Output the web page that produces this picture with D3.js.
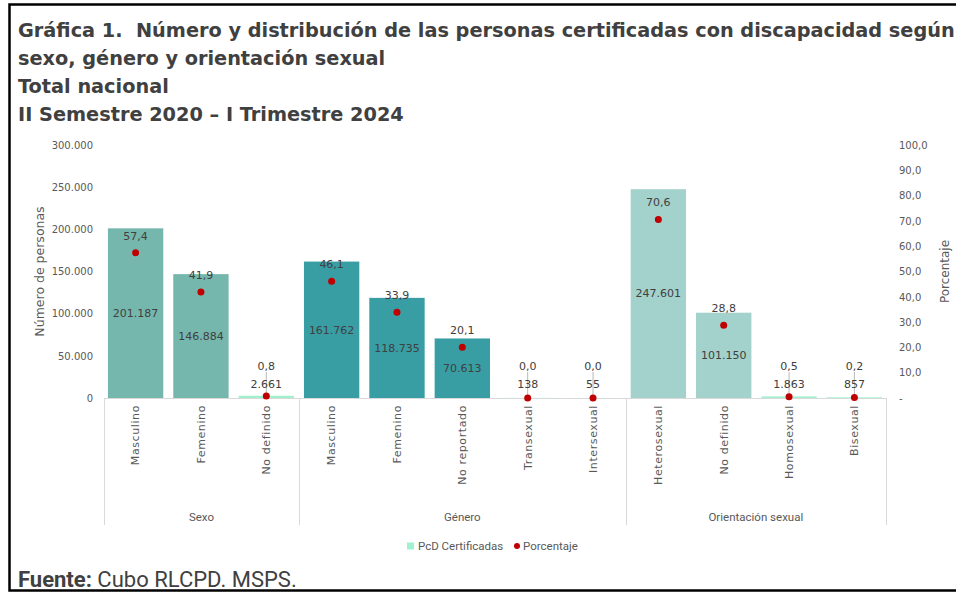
<!DOCTYPE html>
<html>
<head>
<meta charset="utf-8">
<script src="https://cdn.jsdelivr.net/npm/d3@7"></script>
<style>
  body { margin: 0; background: #fff; }
  svg { display: block; }
  .title { font-family: "DejaVu Sans", Verdana, sans-serif; font-weight: bold; fill: #404040; white-space: pre; }
  .tick text { font-family: "DejaVu Sans", Verdana, sans-serif; font-size: 10px; fill: #595959; }
  .narrow { font-family: "Liberation Sans Narrow", "Arial Narrow", Roboto, sans-serif; fill: #595959; }
</style>
</head>
<body>
<div id="chart"></div>
<script>
// Chart data
var groups = ["Sexo", "Género", "Orientación sexual"];
var categories = ["Masculino", "Femenino", "No definido",
  "Masculino", "Femenino", "No reportado", "Transexual", "Intersexual",
  "Heterosexual", "No definido", "Homosexual", "Bisexual"];
var categoryGroup = [0, 0, 0, 1, 1, 1, 1, 1, 2, 2, 2, 2];
var personas = [201187, 146884, 2661, 161762, 118735, 70613, 138, 55, 247601, 101150, 1863, 857];
var porcentaje = [57.4, 41.9, 0.8, 46.1, 33.9, 20.1, 0.0, 0.0, 70.6, 28.8, 0.5, 0.2];
var leftTicks = [0, 50000, 100000, 150000, 200000, 250000, 300000];
var rightTicks = [0, 10, 20, 30, 40, 50, 60, 70, 80, 90, 100];

var titleLines = [
  "Gráfica 1.  Número y distribución de las personas certificadas con discapacidad según",
  "sexo, género y orientación sexual",
  "Total nacional",
  "II Semestre 2020 – I Trimestre 2024"
];

var groupColors = ["#76b7ad", "#389ea4", "#a3d1cb"];
var seriesColor = "#a0f2cf";
var dotColor = "#c00000";

var widthSVG = 956;
var heightSVG = 593;
var plot = { left: 104, right: 886, top: 145, bottom: 398 };

var es = d3.formatLocale({ decimal: ",", thousands: ".", grouping: [3], currency: ["$", ""] });
var fmtInt = es.format(",.0f");
var fmtPct = es.format(",.1f");

var rows = categories.map(function(c, i) {
  return { i: i, cat: c, group: categoryGroup[i], personas: personas[i], pct: porcentaje[i] };
});

var svg = d3.select("#chart").append("svg")
  .attr("width", widthSVG)
  .attr("height", heightSVG);

svg.append("rect").attr("width", widthSVG).attr("height", heightSVG).attr("fill", "#fff");

// frame
svg.append("path")
  .attr("d", "M" + (widthSVG + 5) + ",4.5 H9.5 V590.5 H" + (widthSVG + 5))
  .attr("fill", "none")
  .attr("stroke", "#000")
  .attr("stroke-width", 2.5);

// title
svg.selectAll("text.title").data(titleLines).enter()
  .append("text")
  .attr("class", "title")
  .attr("x", 18)
  .attr("y", function(d, i) { return 37 + i * 28; })
  .attr("font-size", 19.3)
  .text(function(d) { return d; });

// scales
var x = d3.scaleBand()
  .domain(d3.range(categories.length))
  .range([plot.left, plot.right])
  .paddingInner(0.153)
  .paddingOuter(0.06);

var yLeft = d3.scaleLinear().domain([0, 300000]).range([plot.bottom, plot.top]);
var yRight = d3.scaleLinear().domain([0, 100]).range([plot.bottom, plot.top]);

// axes
var leftAxis = svg.append("g")
  .attr("transform", "translate(" + plot.left + ",0)")
  .call(d3.axisLeft(yLeft).tickValues(leftTicks).tickSize(0).tickPadding(11).tickFormat(fmtInt));
leftAxis.select(".domain").remove();

var rightAxis = svg.append("g")
  .attr("transform", "translate(" + plot.right + ",0)")
  .call(d3.axisRight(yRight).tickValues(rightTicks).tickSize(0).tickPadding(13)
    .tickFormat(function(d) { return d === 0 ? "-" : fmtPct(d); }));
rightAxis.select(".domain").remove();

svg.append("text")
  .attr("transform", "translate(44," + (plot.top + plot.bottom) / 2 + ") rotate(-90)")
  .attr("text-anchor", "middle")
  .attr("font-family", "DejaVu Sans, Verdana, sans-serif")
  .attr("font-size", 12.5)
  .attr("fill", "#595959")
  .text("Número de personas");

svg.append("text")
  .attr("transform", "translate(949," + (plot.top + plot.bottom) / 2 + ") rotate(-90)")
  .attr("text-anchor", "middle")
  .attr("font-family", "DejaVu Sans, Verdana, sans-serif")
  .attr("font-size", 12)
  .attr("fill", "#595959")
  .text("Porcentaje");

// category axis line and group separators
svg.append("line")
  .attr("x1", plot.left).attr("x2", plot.right)
  .attr("y1", plot.bottom + 0.5).attr("y2", plot.bottom + 0.5)
  .attr("stroke", "#d9d9d9");

var groupStart = groups.map(function(g, gi) { return categoryGroup.indexOf(gi); });
var groupEnd = groups.map(function(g, gi) { return categoryGroup.lastIndexOf(gi); });
var step = x.step();
function edgeBefore(i) { return i === 0 ? plot.left : x(i) - step * x.paddingInner() / 2; }
function edgeAfter(i) { return i === categories.length - 1 ? plot.right : x(i) + x.bandwidth() + step * x.paddingInner() / 2; }

var seps = groupStart.map(edgeBefore).concat([plot.right]);
svg.selectAll("line.sep").data(seps).enter()
  .append("line")
  .attr("class", "sep")
  .attr("x1", function(d) { return Math.round(d) + 0.5; })
  .attr("x2", function(d) { return Math.round(d) + 0.5; })
  .attr("y1", plot.bottom)
  .attr("y2", 525)
  .attr("stroke", "#d9d9d9");

svg.selectAll("text.group").data(groups).enter()
  .append("text")
  .attr("class", "narrow")
  .attr("x", function(d, gi) { return (edgeBefore(groupStart[gi]) + edgeAfter(groupEnd[gi])) / 2; })
  .attr("y", 521)
  .attr("text-anchor", "middle")
  .attr("font-size", 11.5)
  .text(function(d) { return d; });

// category labels
svg.selectAll("text.cat").data(rows).enter()
  .append("text")
  .attr("transform", function(d) {
    return "translate(" + (x(d.i) + x.bandwidth() / 2) + ",405) rotate(-90)";
  })
  .attr("text-anchor", "end")
  .attr("dy", "0.35em")
  .attr("font-family", "DejaVu Sans, Verdana, sans-serif")
  .attr("font-size", 11)
  .attr("letter-spacing", 0.6)
  .attr("fill", "#595959")
  .text(function(d) { return d.cat; });

// bars
svg.selectAll("rect.bar").data(rows).enter()
  .append("rect")
  .attr("class", "bar")
  .attr("x", function(d) { return x(d.i); })
  .attr("width", x.bandwidth())
  .attr("y", function(d) { return yLeft(d.personas); })
  .attr("height", function(d) { return yLeft(0) - yLeft(d.personas); })
  .attr("fill", function(d) { return d.personas < 5000 ? seriesColor : groupColors[d.group]; });

// label positions
rows.forEach(function(d) {
  d.cx = x(d.i) + x.bandwidth() / 2;
  d.countY = Math.min(yLeft(d.personas / 2), yLeft(0) - 14);
  d.dotY = yRight(d.pct);
  d.pctY = Math.min(d.dotY - 17, d.countY - 18);
  d.leader = d.dotY - d.pctY > 24;
});

// leader lines
svg.selectAll("line.leader").data(rows.filter(function(d) { return d.leader; })).enter()
  .append("line")
  .attr("x1", function(d) { return d.cx; })
  .attr("x2", function(d) { return d.cx; })
  .attr("y1", function(d) { return d.dotY; })
  .attr("y2", function(d) { return d.pctY + 6; })
  .attr("stroke", "#a6a6a6")
  .attr("stroke-width", 0.8);

// count labels
svg.selectAll("text.count").data(rows).enter()
  .append("text")
  .attr("x", function(d) { return d.cx; })
  .attr("y", function(d) { return d.countY; })
  .attr("dy", "0.35em")
  .attr("text-anchor", "middle")
  .attr("font-family", "DejaVu Sans, Verdana, sans-serif")
  .attr("font-size", 11)
  .attr("fill", "#404040")
  .text(function(d) { return fmtInt(d.personas); });

// percentage dots
svg.selectAll("circle.dot").data(rows).enter()
  .append("circle")
  .attr("cx", function(d) { return d.cx; })
  .attr("cy", function(d) { return d.dotY; })
  .attr("r", 3.5)
  .attr("fill", dotColor);

svg.selectAll("text.pct").data(rows).enter()
  .append("text")
  .attr("x", function(d) { return d.cx; })
  .attr("y", function(d) { return d.pctY; })
  .attr("dy", "0.35em")
  .attr("text-anchor", "middle")
  .attr("font-family", "DejaVu Sans, Verdana, sans-serif")
  .attr("font-size", 11)
  .attr("fill", "#404040")
  .text(function(d) { return fmtPct(d.pct); });

// legend
var legend = svg.append("g").attr("transform", "translate(0,546)");
legend.append("rect").attr("x", 407).attr("y", -3.5).attr("width", 7).attr("height", 7).attr("fill", seriesColor);
legend.append("text").attr("class", "narrow").attr("x", 418).attr("dy", "0.35em")
  .attr("font-size", 11.5).text("PcD Certificadas");
legend.append("circle").attr("cx", 517).attr("cy", 0).attr("r", 3).attr("fill", dotColor);
legend.append("text").attr("class", "narrow").attr("x", 523).attr("dy", "0.35em")
  .attr("font-size", 11.5).text("Porcentaje");

// source
var src = svg.append("text")
  .attr("class", "narrow")
  .attr("x", 18)
  .attr("y", 587)
  .attr("font-size", 22)
  .style("fill", "#404040");
src.append("tspan").attr("font-weight", "bold").text("Fuente:");
src.append("tspan").text(" Cubo RLCPD. MSPS.");
</script>
</body>
</html>
